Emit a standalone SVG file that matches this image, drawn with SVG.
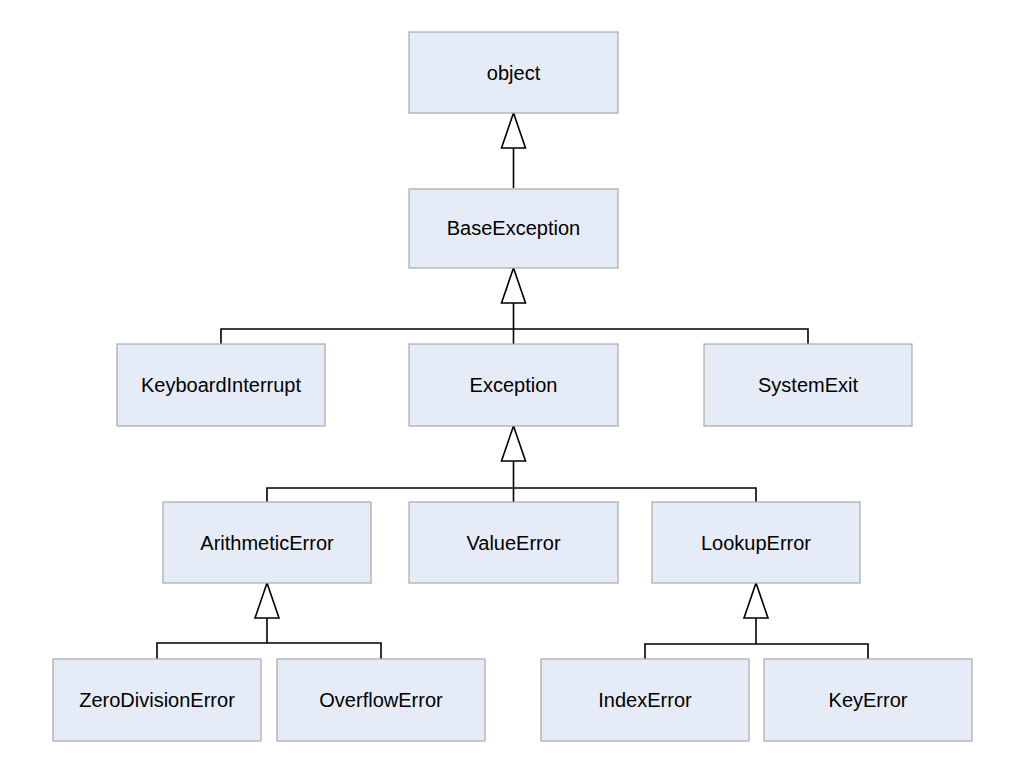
<svg xmlns="http://www.w3.org/2000/svg" width="1024" height="776" viewBox="0 0 1024 776">
<style>
.box{fill:#E6ECF7;stroke:#A9A9A9;stroke-width:1.2}
.lbl{font-family:"Liberation Sans",Arial,sans-serif;font-size:20px;fill:#000;text-anchor:middle}
.ln{fill:none;stroke:#000;stroke-width:1.6}
</style>
<defs>
<marker id="tri" viewBox="0 0 36 26" refX="35" refY="13" markerWidth="36" markerHeight="26" markerUnits="userSpaceOnUse" orient="auto" overflow="visible">
<path d="M35,13 L0,1 L0,25 Z" fill="#fff" stroke="#000" stroke-width="1.6" stroke-linejoin="miter"/>
</marker>
</defs>
<rect width="1024" height="776" fill="#fff"/>
<g id="connectors">
<path class="ln" d="M513.5,188 V113" marker-end="url(#tri)"/>
<path class="ln" d="M513.5,329 V268" marker-end="url(#tri)"/>
<path class="ln" d="M221,344 V329 H808 V344 M513.5,329 V344"/>
<path class="ln" d="M513.5,488 V426" marker-end="url(#tri)"/>
<path class="ln" d="M267,502 V488 H756 V502 M513.5,488 V502"/>
<path class="ln" d="M267,643 V583" marker-end="url(#tri)"/>
<path class="ln" d="M157,659 V643 H381 V659"/>
<path class="ln" d="M756,644 V583" marker-end="url(#tri)"/>
<path class="ln" d="M645,659 V644 H868 V659"/>
</g>
<g id="object"><rect class="box" x="409" y="32" width="209" height="81"/><text class="lbl" x="513.5" y="80">object</text></g>
<g id="BaseException"><rect class="box" x="409" y="189" width="209" height="79"/><text class="lbl" x="513.5" y="235">BaseException</text></g>
<g id="KeyboardInterrupt"><rect class="box" x="117" y="344" width="208" height="82"/><text class="lbl" x="221" y="392">KeyboardInterrupt</text></g>
<g id="Exception"><rect class="box" x="409" y="344" width="209" height="82"/><text class="lbl" x="513.5" y="392">Exception</text></g>
<g id="SystemExit"><rect class="box" x="704" y="344" width="208" height="82"/><text class="lbl" x="808" y="392">SystemExit</text></g>
<g id="ArithmeticError"><rect class="box" x="163" y="502" width="208" height="81"/><text class="lbl" x="267" y="550">ArithmeticError</text></g>
<g id="ValueError"><rect class="box" x="409" y="502" width="209" height="81"/><text class="lbl" x="513.5" y="550">ValueError</text></g>
<g id="LookupError"><rect class="box" x="652" y="502" width="208" height="81"/><text class="lbl" x="756" y="550">LookupError</text></g>
<g id="ZeroDivisionError"><rect class="box" x="53" y="659" width="208" height="82"/><text class="lbl" x="157" y="707">ZeroDivisionError</text></g>
<g id="OverflowError"><rect class="box" x="277" y="659" width="208" height="82"/><text class="lbl" x="381" y="707">OverflowError</text></g>
<g id="IndexError"><rect class="box" x="541" y="659" width="208" height="82"/><text class="lbl" x="645" y="707">IndexError</text></g>
<g id="KeyError"><rect class="box" x="764" y="659" width="208" height="82"/><text class="lbl" x="868" y="707">KeyError</text></g>
</svg>
